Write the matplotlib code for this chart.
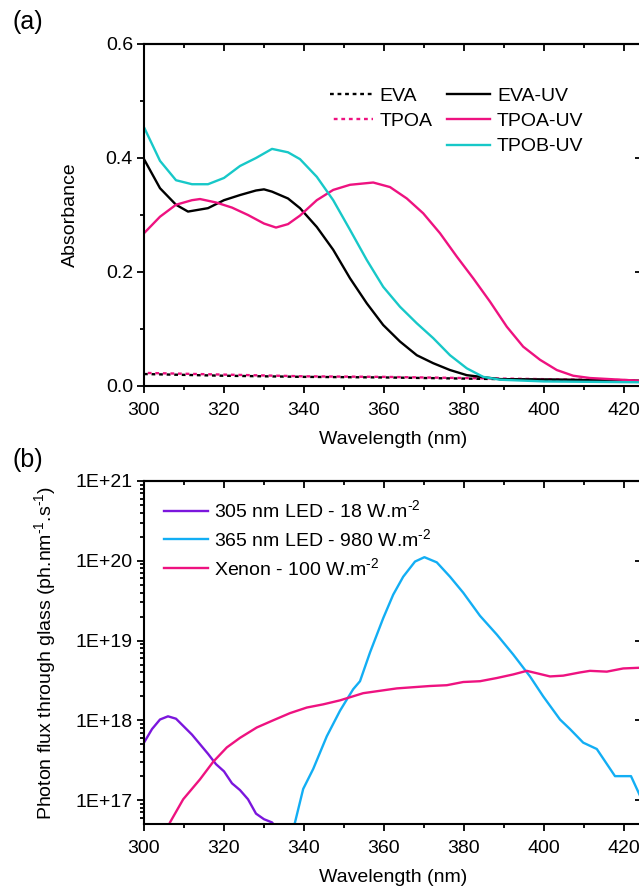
import numpy as np
import matplotlib
matplotlib.use("Agg")
import matplotlib.pyplot as plt
from matplotlib.ticker import MultipleLocator, LogLocator, NullFormatter, NullLocator
from matplotlib.lines import Line2D

plt.rcParams['font.family'] = ['Liberation Sans', 'DejaVu Sans']
plt.rcParams['mathtext.fontset'] = 'custom'
plt.rcParams['mathtext.rm'] = 'Liberation Sans'
plt.rcParams['mathtext.default'] = 'regular'
plt.rcParams['font.size'] = 14

# ---- panel (a): absorbance ----
wl_evauv = [300, 304, 308, 311, 316, 320, 324, 328, 330, 332, 336, 339, 343.2, 347.3, 351.5,
            355.7, 359.8, 364, 368.2, 372.3, 376.5, 380.7, 389, 405.7, 424.5]
abs_evauv = [0.398, 0.347, 0.318, 0.306, 0.312, 0.326, 0.335, 0.343, 0.345, 0.341, 0.329, 0.312,
             0.279, 0.239, 0.189, 0.145, 0.107, 0.078, 0.054, 0.040, 0.028, 0.019, 0.012, 0.011, 0.009]

wl_tpoauv = [300, 304, 308, 312, 314, 318, 322, 326, 330, 333, 336, 339, 343.2, 347.3, 351.5,
             357.3, 361.5, 365.7, 369.8, 374, 378.2, 382.3, 386.5, 390.7, 394.8, 399, 403.2,
             407.3, 411.5, 424.5]
abs_tpoauv = [0.268, 0.297, 0.318, 0.326, 0.328, 0.322, 0.313, 0.300, 0.285, 0.278, 0.284, 0.299,
              0.326, 0.344, 0.353, 0.357, 0.349, 0.329, 0.303, 0.268, 0.227, 0.189, 0.148, 0.104,
              0.069, 0.046, 0.028, 0.018, 0.014, 0.009]

wl_tpobuv = [300, 304, 308, 312, 316, 320, 324, 328, 332, 336, 339, 343.2, 347.3, 351.5, 355.7,
             359.8, 364, 368.2, 372.3, 376.5, 380.7, 384.8, 389, 400, 424.5]
abs_tpobuv = [0.454, 0.395, 0.361, 0.354, 0.354, 0.365, 0.386, 0.400, 0.416, 0.410, 0.398, 0.367,
              0.326, 0.274, 0.221, 0.174, 0.139, 0.110, 0.084, 0.054, 0.031, 0.016, 0.011, 0.008, 0.0065]

wl_dry = [300, 320, 340, 360, 380, 400, 424.5]
abs_eva = [0.021, 0.018, 0.016, 0.015, 0.013, 0.011, 0.009]
abs_tpoa = [0.023, 0.020, 0.017, 0.016, 0.014, 0.012, 0.010]

# ---- panel (b): photon flux ----
wl_led305 = [300, 302, 304, 306, 308, 310, 312, 314, 316, 318, 320, 322, 324, 326, 328, 330, 332, 334]
log_led305 = [17.72, 17.89, 18.01, 18.05, 18.02, 17.92, 17.82, 17.70, 17.58, 17.45, 17.36, 17.21,
              17.125, 17.01, 16.83, 16.76, 16.72, 16.6]

wl_led365 = [337.2, 337.75, 339.8, 342.3, 345.7, 349, 350.7, 352.3, 354, 356.5, 359.8, 362.3, 364.8,
             367.75, 370.1, 373.2, 376.5, 379.8, 384, 388.2, 392.3, 396.5, 399.8, 404, 406.5,
             409.8, 413.2, 417.75, 421.75, 424.5]
log_led365 = [16.6, 16.72, 17.14, 17.39, 17.80, 18.12, 18.26, 18.39, 18.49, 18.85, 19.28, 19.575,
              19.80, 19.99, 20.045, 19.98, 19.80, 19.60, 19.31, 19.075, 18.825, 18.55, 18.30, 18.01,
              17.89, 17.72, 17.64, 17.30, 17.30, 17.0]

wl_xenon = [305.5, 306.5, 309.8, 314, 317.3, 320.7, 324, 328.2, 332.3, 336.5, 340.7, 344.8, 349,
            354.8, 363.2, 371.5, 375.7, 379.8, 384, 388.2, 392.3, 395.7, 398.2, 401.5, 404.8,
            409, 411.5, 415.7, 419.8, 424.5]
log_xenon = [16.6, 16.72, 17.01, 17.26, 17.48, 17.66, 17.78, 17.91, 18.00, 18.09, 18.16, 18.20,
             18.25, 18.34, 18.40, 18.43, 18.44, 18.48, 18.49, 18.53, 18.575, 18.62, 18.59, 18.55,
             18.56, 18.60, 18.62, 18.61, 18.65, 18.66]

PINK = '#EE1280'
CYAN = '#17C8C8'
PURPLE = '#7B16DD'
BLUE = '#12AEF4'

W, H = 639, 890
fig = plt.figure(figsize=(W / 100, H / 100), dpi=100)

x_left = 144 / W
x_w = 498 / W
ax1 = fig.add_axes([x_left, 1 - 386 / H, x_w, (386 - 44) / H])
ax2 = fig.add_axes([x_left, 1 - 824 / H, x_w, (824 - 481) / H])

lw = 1.7
ax1.plot(wl_dry, abs_eva, color='black', lw=lw, ls=(0, (1.6, 1.6)), label='EVA')
ax1.plot(wl_dry, abs_tpoa, color=PINK, lw=lw, ls=(1.6, (1.6, 1.6)), label='TPOA')
ax1.plot(wl_evauv, abs_evauv, color='black', lw=lw, label='EVA-UV')
ax1.plot(wl_tpoauv, abs_tpoauv, color=PINK, lw=lw, label='TPOA-UV')
ax1.plot(wl_tpobuv, abs_tpobuv, color=CYAN, lw=lw, label='TPOB-UV')

ax2.plot(wl_led305, 10 ** np.array(log_led305), color=PURPLE, lw=lw,
         label='305 nm LED - 18 W.m$^{\u2010 2}$'.replace('\u2010 ', '\u2010'))
ax2.plot(wl_led365, 10 ** np.array(log_led365), color=BLUE, lw=lw,
         label='365 nm LED - 980 W.m$^{\u20102}$')
ax2.plot(wl_xenon, 10 ** np.array(log_xenon), color=PINK, lw=lw,
         label='Xenon - 100 W.m$^{\u20102}$')

xmax = 300 + 498 / 4
for ax in (ax1, ax2):
    ax.set_xlim(300, xmax)
    ax.xaxis.set_major_locator(MultipleLocator(20))
    ax.xaxis.set_minor_locator(MultipleLocator(10))
    for s in ax.spines.values():
        s.set_linewidth(1.5)
    ax.tick_params(which='both', direction='out', top=False, right=False, width=1.3,
                   labelsize=14)
    ax.tick_params(axis='x', pad=6.5)
    ax.tick_params(axis='y', pad=3)
    ax.tick_params(which='major', length=5)
    ax.tick_params(which='minor', length=3)
    ax.set_xlabel('Wavelength (nm)', fontsize=14, labelpad=9)

ax1.set_ylim(0, 0.6)
ax1.yaxis.set_major_locator(MultipleLocator(0.2))
ax1.yaxis.set_minor_locator(MultipleLocator(0.1))
ax1.yaxis.set_major_formatter(matplotlib.ticker.FormatStrFormatter('%.1f'))
ax1.set_ylabel('Absorbance', fontsize=14, labelpad=19)

ax2.set_yscale('log')
ax2.set_ylim(10 ** 16.7, 1e21)
ax2.yaxis.set_major_locator(LogLocator(base=10, numticks=10))
ax2.yaxis.set_minor_locator(LogLocator(base=10, subs=np.arange(2, 10), numticks=20))
ax2.yaxis.set_minor_formatter(NullFormatter())
ax2.yaxis.set_major_formatter(matplotlib.ticker.FuncFormatter(
    lambda v, p: '1E+%d' % round(np.log10(v))))
ax2.set_ylabel('Photon flux through glass (ph.nm$^{\u20101}$.s$^{\u20101}$)', fontsize=14,
               labelpad=13)

# mirrored ticks pointing inward on top and right
for ax in (ax1, ax2):
    top = ax.secondary_xaxis('top')
    top.xaxis.set_major_locator(MultipleLocator(20))
    top.xaxis.set_minor_locator(MultipleLocator(10))
    top.tick_params(which='both', direction='in', labeltop=False, width=1.3)
    top.tick_params(which='major', length=5)
    top.tick_params(which='minor', length=3)
    top.spines['top'].set_linewidth(1.5)
    right = ax.secondary_yaxis('right')
    right.tick_params(which='both', direction='in', labelright=False, width=1.3)
    right.tick_params(which='major', length=5)
    right.spines['right'].set_linewidth(1.5)
    if ax is ax1:
        right.yaxis.set_major_locator(MultipleLocator(0.2))
    right.yaxis.set_minor_locator(NullLocator())

# legends
h = ax1.get_legend_handles_labels()[0]
blank = Line2D([], [], color='none')
leg1 = ax1.legend([h[0], h[1], blank, h[2], h[3], h[4]],
                  ['EVA', 'TPOA', '', 'EVA-UV', 'TPOA-UV', 'TPOB-UV'],
                  ncol=2, loc='upper left', bbox_to_anchor=(0.374, 0.873), frameon=False,
                  borderpad=0, borderaxespad=0, handlelength=2.2, handletextpad=0.35,
                  columnspacing=0.75, labelspacing=0.39, fontsize=14)

ax2.legend(loc='upper left', bbox_to_anchor=(0.040, 0.946), frameon=False,
           borderpad=0, borderaxespad=0, handlelength=2.25, handletextpad=0.35,
           labelspacing=0.35, fontsize=14)

fig.text(28 / W, 1 - 22 / H, '(a)', fontsize=18, ha='center', va='center')
fig.text(28 / W, 1 - 460 / H, '(b)', fontsize=18, ha='center', va='center')

fig.savefig('out.png', dpi=100)
